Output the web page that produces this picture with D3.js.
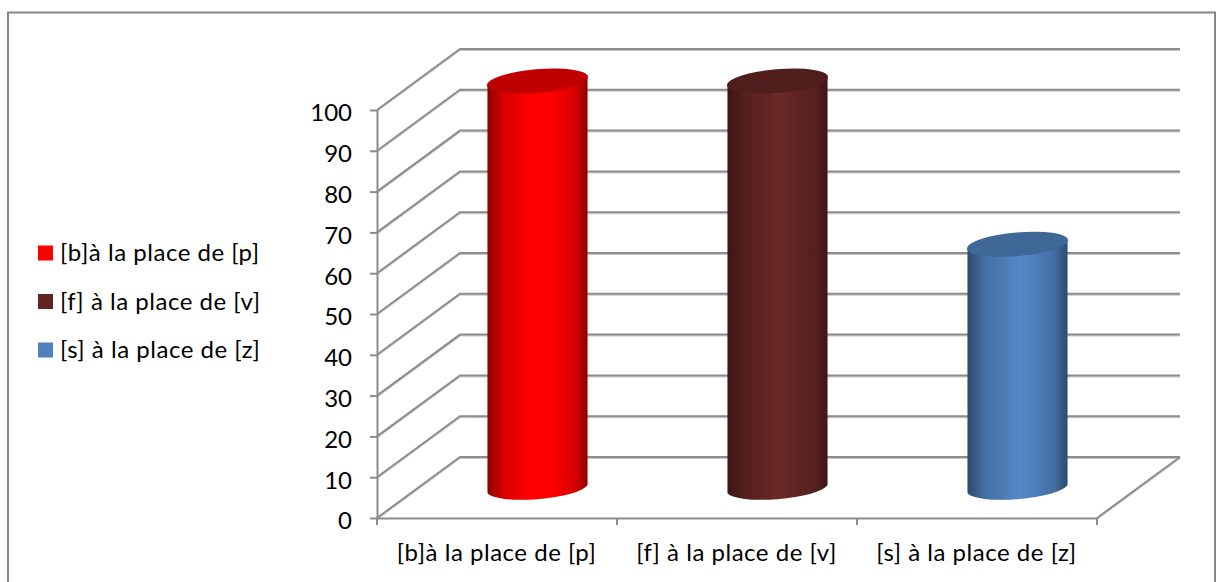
<!DOCTYPE html>
<html><head><meta charset="utf-8">
<script src="https://cdn.jsdelivr.net/npm/d3@7"></script>
<style>html,body{margin:0;padding:0;background:#fff}svg{display:block}text{font-family:Lato,sans-serif;fill:#000}.lab{letter-spacing:0.52px}</style>
</head><body><svg id="c" width="1222" height="582"></svg>
<script>
const categories = ["[b]à la place de [p]", "[f] à la place de [v]", "[s] à la place de [z]"];
const values = [100, 100, 60];
const yTicks = [0,10,20,30,40,50,60,70,80,90,100];
const bodyColors = ["#ff0000", "#632523", "#4f81bd"];
const midColors = ["#ff0000", "#6b2a28", "#5588c8"];
const edgeColors = ["#8f0000", "#3c1615", "#2c4a6e"];
const topColors = ["#c00000", "#4f1e1c", "#3f6797"];

const W = 1222, H = 582, GRID = "#8c8c8c";
const svg = d3.select("#c");
const x = d3.scaleBand().domain(categories).range([377,1097]).paddingInner(0.583).paddingOuter(0.2915);
const xEdge = d3.scaleBand().domain(categories).range([377,1097]);
const y = d3.scaleLinear().domain([0,100]).range([518,110]);
const depth = {x:83, y:-61};
const floorMid = {x:40.5, y:-29};

const defs = svg.append("defs");
const sh = defs.append("filter").attr("id","sh").attr("x","-5%").attr("y","-20%").attr("width","110%").attr("height","140%");
sh.append("feDropShadow").attr("dx",0).attr("dy",1).attr("stdDeviation",0.7).attr("flood-color","#000").attr("flood-opacity",0.22);
categories.forEach((c,i)=>{
  const g = defs.append("linearGradient").attr("id","g"+i);
  [[0,edgeColors[i]],[0.17,d3.interpolateRgb(edgeColors[i],bodyColors[i])(0.65)],[0.42,bodyColors[i]],[0.52,midColors[i]],[0.64,bodyColors[i]],[0.87,d3.interpolateRgb(edgeColors[i],bodyColors[i])(0.65)],[1,edgeColors[i]]]
    .forEach(s=>g.append("stop").attr("offset",s[0]).attr("stop-color",s[1]));
});

// outer border
svg.append("path").attr("d",`M8,${H}V12.5H1215V${H}`).attr("fill","none").attr("stroke","#868686").attr("stroke-width",2);

// grid walls
const gridG = svg.append("g").attr("filter","url(#sh)").attr("fill","none").attr("stroke",GRID).attr("stroke-width",2);
gridG.selectAll("path.g").data(yTicks).join("path").attr("class","g")
  .attr("d",t=>`M377,${y(t)}L${377+depth.x},${y(t)+depth.y}H${1097+depth.x}`);
gridG.append("path").attr("d",`M1097,${y(0)}L${1097+depth.x},${y(0)+depth.y}`);

// axes
const axL = svg.append("g").attr("transform","translate(377,0)")
  .call(d3.axisLeft(y).tickValues(yTicks).tickSize(7).tickPadding(18).tickSizeOuter(0));
axL.selectAll("path,line").attr("stroke",GRID).attr("stroke-width",2);
axL.selectAll("text").attr("font-size",24).attr("dy","0.45em").style("font-family",'Lato,sans-serif').attr("fill","#000");

const axB = svg.append("g").attr("transform",`translate(0,${y(0)})`)
  .call(d3.axisBottom(xEdge).tickValues([]).tickSizeOuter(0));
axB.select("path").attr("stroke",GRID).attr("stroke-width",2);
const edges = [0,1,2,3].map(i=>377+i*xEdge.step());
axB.selectAll("line.t").data(edges).join("line").attr("class","t").attr("x1",d=>d).attr("x2",d=>d).attr("y1",0).attr("y2",7).attr("stroke",GRID).attr("stroke-width",2);
svg.append("g").selectAll("text").data(categories).join("text").attr("class","lab")
  .attr("x",c=>xEdge(c)+xEdge.bandwidth()/2-0.5).attr("y",561).attr("text-anchor","middle").attr("font-size",24).text(c=>c);

// cylinders
const a = 50.7, b = 11.8, rot = -4.84, dx = x.bandwidth()/2, dyE = 4;
categories.forEach((c,i)=>{
  const cx = x(c)+x.bandwidth()/2+floorMid.x;
  const by = y(0)+floorMid.y, ty = y(values[i])+floorMid.y;
  svg.append("path").attr("fill",`url(#g${i})`)
    .attr("d",`M${cx-dx},${ty+dyE}L${cx-dx},${by+dyE}A${a},${b} ${rot} 0 0 ${cx+dx},${by-dyE}L${cx+dx},${ty-dyE}A${a},${b} ${rot} 0 1 ${cx-dx},${ty+dyE}Z`);
  svg.append("ellipse").attr("cx",cx).attr("cy",ty).attr("rx",a).attr("ry",b)
    .attr("transform",`rotate(${rot} ${cx} ${ty})`).attr("fill",topColors[i]);
});

// legend
const ly = d3.scalePoint().domain(categories).range([253,350]);
const lg = svg.append("g").selectAll("g").data(categories).join("g").attr("transform",c=>`translate(38,${ly(c)})`);
lg.append("rect").attr("x",0).attr("y",-7.5).attr("width",15).attr("height",15).attr("fill",(c,i)=>bodyColors[i]);
lg.append("text").attr("class","lab").attr("x",22).attr("y",8).attr("font-size",24).text(c=>c);
</script></body></html>
